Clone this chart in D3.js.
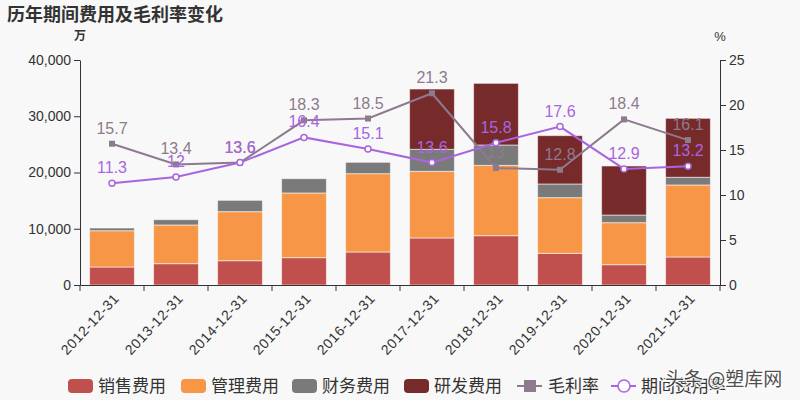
<!DOCTYPE html>
<html>
<head>
<meta charset="utf-8">
<script src="https://cdn.jsdelivr.net/npm/d3@7"></script>
<style>
  body { margin: 0; background: #f8f8f8; }
  svg { font-family: "Liberation Sans", "Noto Sans CJK SC", sans-serif; }
</style>
</head>
<body>
<div id="chart"></div>
<script>
// data
const years = ["2012-12-31", "2013-12-31", "2014-12-31", "2015-12-31", "2016-12-31",
               "2017-12-31", "2018-12-31", "2019-12-31", "2020-12-31", "2021-12-31"];
const sales   = [3200, 3790, 4320, 4860, 5870, 8360, 8770, 5630, 3610, 4980];
const admin   = [6450, 6880, 8720, 11500, 13920, 11850, 12500, 9900, 7470, 12800];
const finance = [480, 940, 2010, 2540, 2020, 3910, 3620, 2430, 1360, 1370];
const rnd     = [0, 0, 0, 0, 0, 10720, 10960, 8590, 8720, 10480];
const grossMargin = [15.7, 13.4, 13.6, 18.3, 18.5, 21.3, 13, 12.8, 18.4, 16.1];
const expenseRate = [11.3, 12, 13.6, 16.4, 15.1, 13.6, 15.8, 17.6, 12.9, 13.2];
const leftTicks = [0, 10000, 20000, 30000, 40000];
const rightTicks = [0, 5, 10, 15, 20, 25];

const seriesNames = ["销售费用", "管理费用", "财务费用", "研发费用"];
const colors = ["#c0504d", "#f79646", "#7a7a7a", "#772a2a"];
const gmColor = "#8d7a8d", erColor = "#a865e0";

const W = 800, H = 400;
const margin = { top: 60, right: 80, bottom: 115, left: 80 };
const width = W - margin.left - margin.right,
      height = H - margin.top - margin.bottom;

const svg = d3.select("#chart").append("svg")
    .attr("width", W).attr("height", H);

svg.append("rect").attr("width", W).attr("height", H).attr("fill", "#f8f8f8");

// title
svg.append("text")
    .attr("x", 7).attr("y", 21)
    .attr("font-size", 18).attr("font-weight", "bold")
    .attr("fill", "#333")
    .text("历年期间费用及毛利率变化");

const g = svg.append("g").attr("transform", `translate(${margin.left},${margin.top})`);

const x = d3.scaleBand().domain(years).range([0, width]).paddingInner(0.3).paddingOuter(0.15);
const yL = d3.scaleLinear().domain([0, 40000]).range([height, 0]);
const yR = d3.scaleLinear().domain([0, 25]).range([height, 0]);

// stacked bars
const rows = years.map((d, i) => ({ year: d, s0: sales[i], s1: admin[i], s2: finance[i], s3: rnd[i] }));
const stack = d3.stack().keys(["s0", "s1", "s2", "s3"]);
const layers = stack(rows);

g.selectAll(".layer").data(layers).join("g")
    .attr("class", "layer")
    .attr("fill", (d, i) => colors[i])
    .selectAll("rect").data(d => d.filter(p => p[1] > p[0])).join("rect")
    .attr("x", d => x(d.data.year))
    .attr("width", x.bandwidth())
    .attr("y", d => yL(d[1]))
    .attr("height", d => yL(d[0]) - yL(d[1]))
    .attr("stroke", "#fff")
    .attr("stroke-opacity", 0.55)
    .attr("stroke-width", 1);

// axes
const axL = g.append("g")
    .call(d3.axisLeft(yL).tickValues(leftTicks).tickFormat(d3.format(",")).tickSizeOuter(0));
const axR = g.append("g").attr("transform", `translate(${width},0)`)
    .call(d3.axisRight(yR).tickValues(rightTicks).tickSizeOuter(0));
const axB = g.append("g").attr("transform", `translate(0,${height})`)
    .call(d3.axisBottom(x).tickSizeOuter(0));

// tick marks at band edges like the original
axB.selectAll(".tick line").attr("transform", `translate(${-x.step() / 2},0)`);
axB.append("line").attr("x1", width).attr("x2", width).attr("y1", 0).attr("y2", 6).attr("stroke", "#333");

[axL, axR, axB].forEach(a => {
    a.selectAll("path, line").attr("stroke", "#333");
    a.selectAll("text").attr("fill", "#333").attr("font-size", 14);
});

axB.selectAll("text")
    .attr("text-anchor", "end")
    .attr("x", 0).attr("y", 0).attr("dx", 0).attr("dy", 0)
    .attr("letter-spacing", 0.6)
    .attr("transform", "translate(8,14) rotate(-47)");

// unit labels
svg.append("text").attr("x", 80).attr("y", 40).attr("text-anchor", "middle")
    .attr("font-size", 12).attr("font-weight", "bold").attr("fill", "#333").text("万");
svg.append("text").attr("x", 720).attr("y", 41).attr("text-anchor", "middle")
    .attr("font-size", 13).attr("fill", "#333").text("%");

// lines
const cx = d => x(d) + x.bandwidth() / 2;
const gmLine = d3.line().x((d, i) => cx(years[i])).y(d => yR(d));

g.append("path").datum(grossMargin)
    .attr("d", gmLine).attr("fill", "none").attr("stroke", gmColor).attr("stroke-width", 2);
g.append("path").datum(expenseRate)
    .attr("d", gmLine).attr("fill", "none").attr("stroke", erColor).attr("stroke-width", 2);

g.selectAll(".gm-pt").data(grossMargin).join("rect")
    .attr("x", (d, i) => cx(years[i]) - 3).attr("y", d => yR(d) - 3)
    .attr("width", 6).attr("height", 6).attr("fill", gmColor);

g.selectAll(".er-pt").data(expenseRate).join("circle")
    .attr("cx", (d, i) => cx(years[i])).attr("cy", d => yR(d))
    .attr("r", 3).attr("fill", "#fff").attr("stroke", erColor).attr("stroke-width", 1.5);

// point labels
g.selectAll(".gm-lbl").data(grossMargin).join("text")
    .attr("x", (d, i) => cx(years[i])).attr("y", d => yR(d) - 10)
    .attr("text-anchor", "middle").attr("font-size", 16).attr("fill", gmColor)
    .text(d => d);
g.selectAll(".er-lbl").data(expenseRate).join("text")
    .attr("x", (d, i) => cx(years[i])).attr("y", d => yR(d) - 10)
    .attr("text-anchor", "middle").attr("font-size", 16).attr("fill", erColor)
    .text(d => d);

// legend
const legend = svg.append("g").attr("transform", "translate(0,386)")
    .attr("font-family", "Noto Sans CJK SC").attr("font-size", 17).attr("fill", "#333");
const lx = [68, 181, 292, 404];
seriesNames.forEach((name, i) => {
    legend.append("rect").attr("x", lx[i]).attr("y", -7).attr("width", 25).attr("height", 14)
        .attr("rx", 4).attr("fill", colors[i]);
    legend.append("text").attr("x", lx[i] + 30).attr("y", 6).text(name);
});
legend.append("line").attr("x1", 517).attr("x2", 542).attr("stroke", gmColor).attr("stroke-width", 2);
legend.append("rect").attr("x", 524).attr("y", -6).attr("width", 12).attr("height", 12).attr("fill", gmColor);
legend.append("text").attr("x", 548).attr("y", 6).text("毛利率");
legend.append("line").attr("x1", 611).attr("x2", 636).attr("stroke", erColor).attr("stroke-width", 2);
legend.append("circle").attr("cx", 624).attr("cy", 0).attr("r", 6).attr("fill", "#fff")
    .attr("stroke", erColor).attr("stroke-width", 1.5);
legend.append("text").attr("x", 641).attr("y", 6).text("期间费用率");

// watermark
svg.append("text").attr("x", 665).attr("y", 386)
    .attr("font-family", "Noto Sans CJK SC").attr("font-size", 19)
    .attr("fill", "#333").attr("stroke", "#fff").attr("stroke-width", 2.5)
    .attr("paint-order", "stroke").attr("opacity", 0.85)
    .text("头条 @塑库网");
</script>
</body>
</html>
